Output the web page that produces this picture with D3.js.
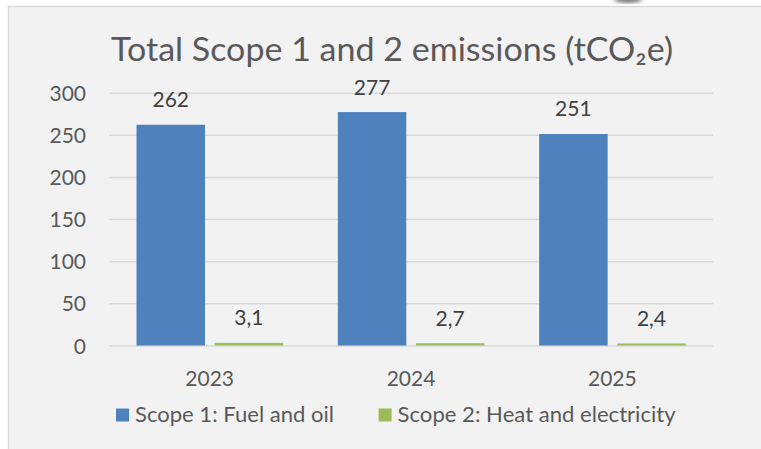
<!DOCTYPE html>
<html>
<head>
<meta charset="utf-8">
<script src="https://cdn.jsdelivr.net/npm/d3@7"></script>
<style>
  body { margin: 0; background: #fff; }
  text { font-family: Lato, "Open Sans", sans-serif; }
</style>
</head>
<body>
<script>
const years = ["2023", "2024", "2025"];
const seriesNames = ["Scope 1: Fuel and oil", "Scope 2: Heat and electricity"];
const scope1 = [262, 277, 251];
const scope2 = [3.1, 2.7, 2.4];
const yTicks = [0, 50, 100, 150, 200, 250, 300];
const colors = ["#4f81bd", "#9bbb59"];

const W = 761, H = 449;
const plotL = 109, plotR = 713, plotT = 92.7, plotB = 345.5;

const svg = d3.select("body").append("svg")
  .attr("width", W).attr("height", H);

// panel
svg.append("rect")
  .attr("x", 8.5).attr("y", 6.5)
  .attr("width", W).attr("height", H)
  .attr("fill", "#f2f2f2").attr("stroke", "#d9d9d9").attr("stroke-width", 1.5);

// little shadow at the top edge
const defs = svg.append("defs");
defs.append("filter").attr("id", "blur")
  .append("feGaussianBlur").attr("stdDeviation", 2);
svg.append("ellipse")
  .attr("cx", 628).attr("cy", -1).attr("rx", 14).attr("ry", 4)
  .attr("fill", "#777").attr("filter", "url(#blur)");

function fit(sel, w) {
  sel.each(function() {
    const t = this.getComputedTextLength();
    if (Math.abs(t - w) > 1) {
      d3.select(this).attr("textLength", w).attr("lengthAdjust", "spacingAndGlyphs");
    }
  });
}

// title
const title = svg.append("text")
  .attr("x", 111).attr("y", 61)
  .attr("font-size", 32).attr("fill", "#595959")
  .text("Total Scope 1 and 2 emissions (tCO₂e)");
fit(title, 562);

const y = d3.scaleLinear().domain([0, 300]).range([plotB, plotT]);
const x0 = d3.scaleBand().domain(years).range([plotL, plotR]);
const bw = x0.bandwidth();
const x1 = d3.scaleBand().domain([0, 1])
  .range([bw * 0.1366, bw * 0.8644]).paddingInner(0.123);

// y axis + grid
const yAxis = svg.append("g")
  .attr("transform", "translate(" + plotL + ",0)")
  .call(d3.axisLeft(y).tickValues(yTicks).tickSize(-(plotR - plotL)).tickPadding(23));
yAxis.select(".domain").remove();
yAxis.selectAll(".tick line").attr("stroke", "#d9d9d9").attr("stroke-width", 1.5);
yAxis.selectAll(".tick text")
  .attr("font-size", 21).attr("fill", "#595959").attr("dy", "0.36em");

// x axis
const xAxis = svg.append("g")
  .attr("transform", "translate(0," + plotB + ")")
  .call(d3.axisBottom(x0).tickSize(0));
xAxis.select(".domain").remove();
xAxis.selectAll(".tick text")
  .attr("y", 40.5).attr("dy", 0)
  .attr("font-size", 21).attr("fill", "#595959");

// bars
const rows = years.map((yr, i) => ({ year: yr, vals: [scope1[i], scope2[i]] }));
const groups = svg.selectAll("g.grp").data(rows).enter().append("g")
  .attr("class", "grp")
  .attr("transform", d => "translate(" + x0(d.year) + ",0)");

groups.selectAll("rect").data(d => d.vals.map((v, k) => ({ v: v, k: k })))
  .enter().append("rect")
  .attr("x", d => x1(d.k))
  .attr("width", x1.bandwidth())
  .attr("y", d => y(d.v))
  .attr("height", d => y(0) - y(d.v))
  .attr("fill", d => colors[d.k]);

groups.selectAll("text.lbl").data(d => d.vals.map((v, k) => ({ v: v, k: k })))
  .enter().append("text")
  .attr("class", "lbl")
  .attr("x", d => x1(d.k) + x1.bandwidth() / 2)
  .attr("y", d => y(d.v) - 17.5)
  .attr("text-anchor", "middle")
  .attr("font-size", 21).attr("fill", "#404040")
  .text(d => String(d.v).replace(".", ","));

// legend
const legX = [116, 378.6];
const legW = [199, 278];
seriesNames.forEach((name, i) => {
  svg.append("rect")
    .attr("x", legX[i]).attr("y", 408.5)
    .attr("width", 13).attr("height", 13)
    .attr("fill", colors[i]);
  const t = svg.append("text")
    .attr("x", legX[i] + 19).attr("y", 422)
    .attr("font-size", 21).attr("fill", "#595959")
    .text(name);
  fit(t, legW[i]);
});
</script>
</body>
</html>
